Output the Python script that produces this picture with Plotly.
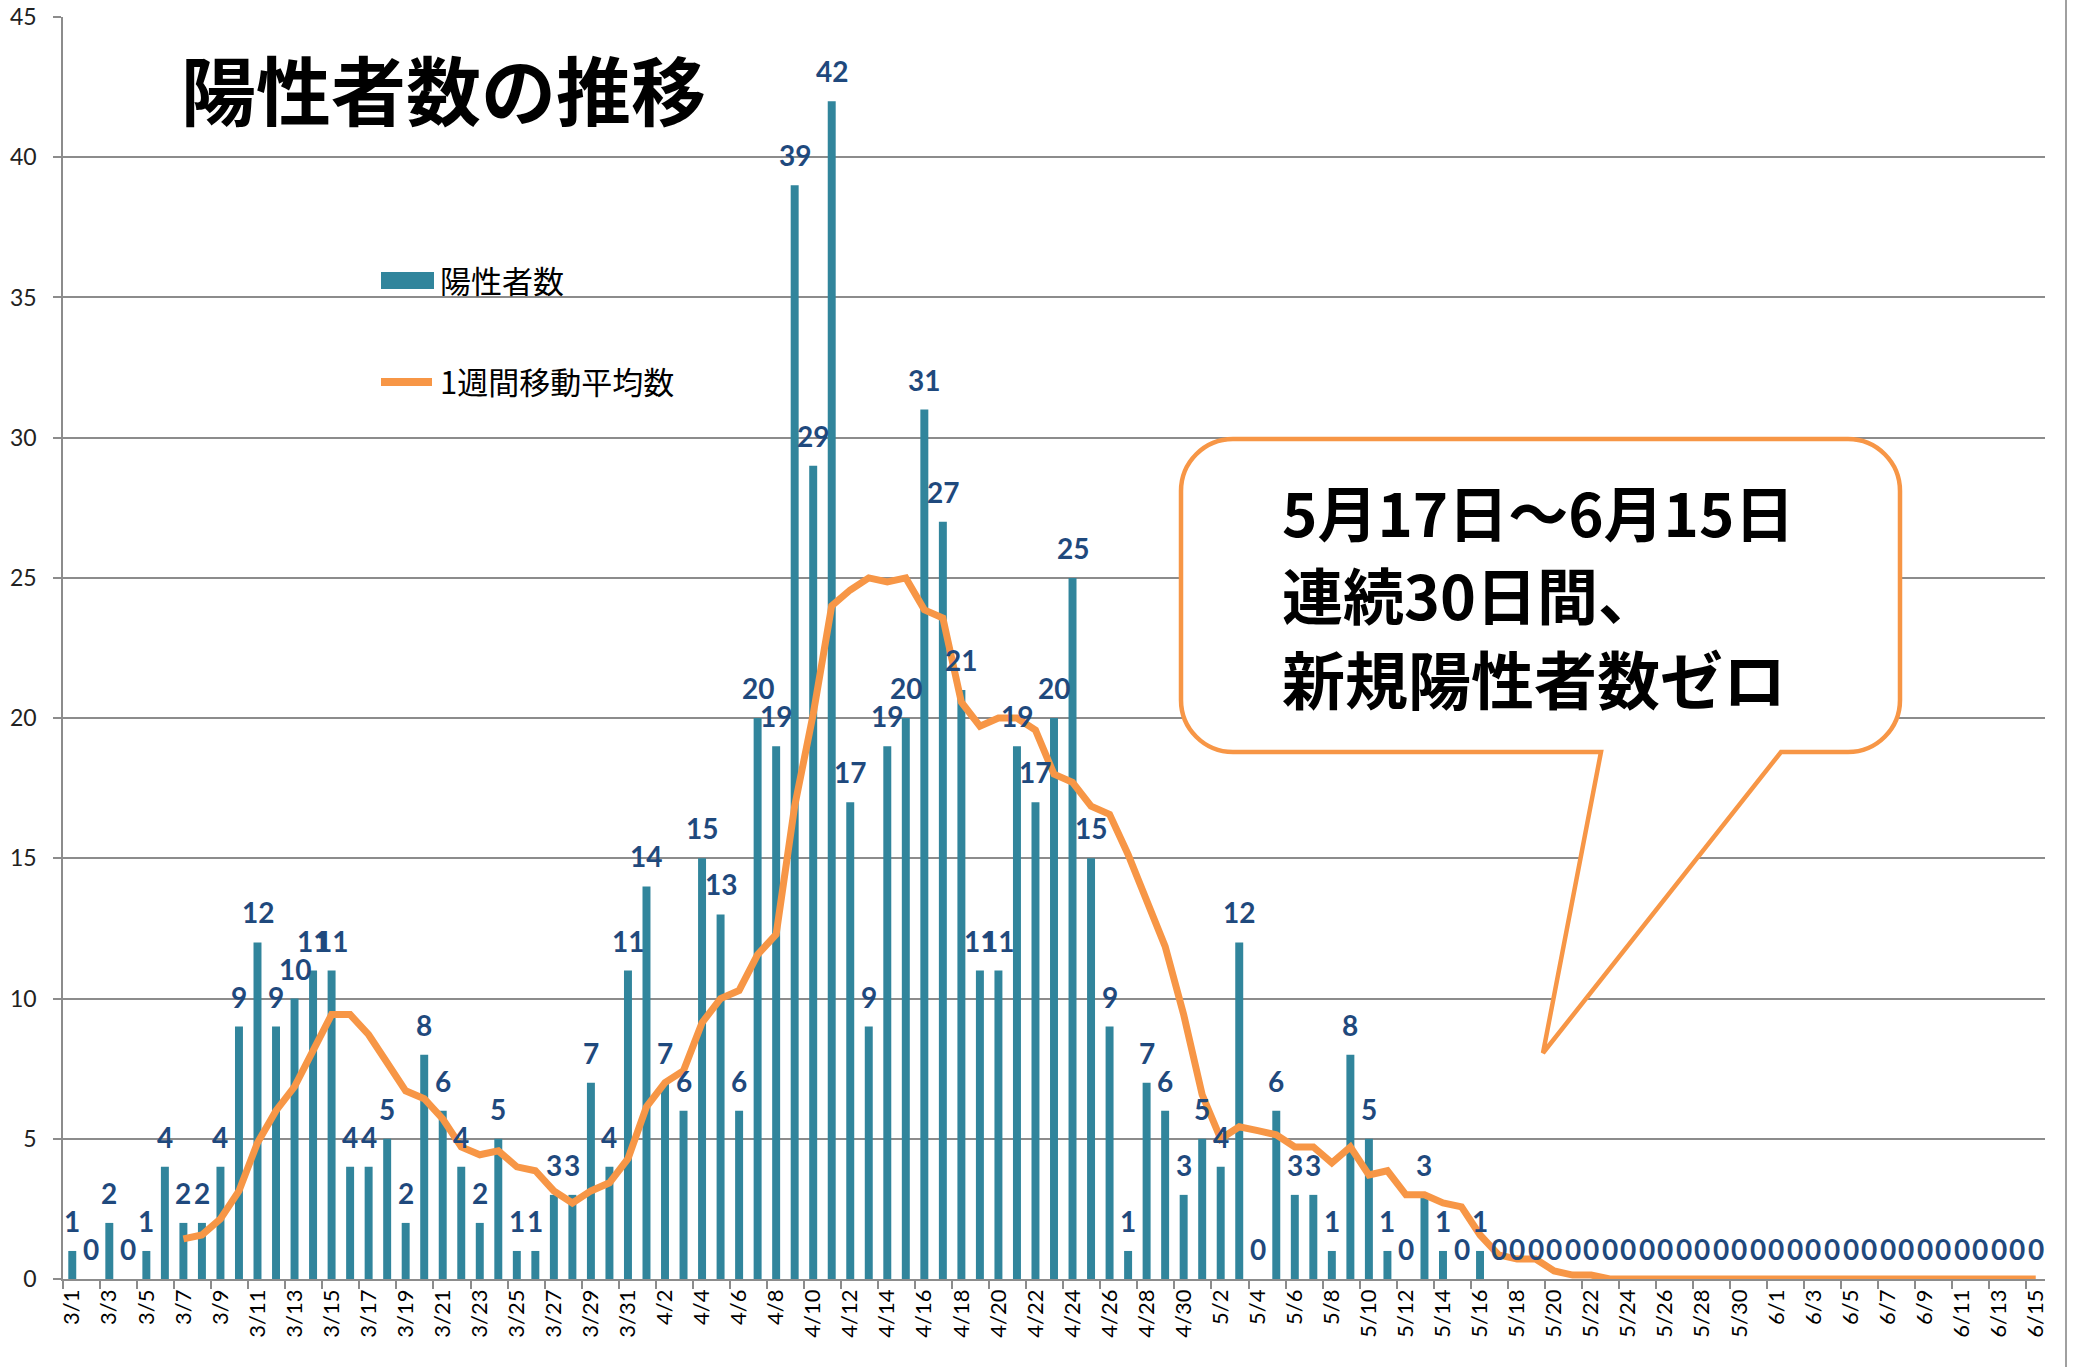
import plotly.graph_objects as go

# ---------------- data ----------------
dates = [
    "3/1", "3/2", "3/3", "3/4", "3/5", "3/6", "3/7", "3/8", "3/9", "3/10",
    "3/11", "3/12", "3/13", "3/14", "3/15", "3/16", "3/17", "3/18", "3/19", "3/20",
    "3/21", "3/22", "3/23", "3/24", "3/25", "3/26", "3/27", "3/28", "3/29", "3/30", "3/31",
    "4/1", "4/2", "4/3", "4/4", "4/5", "4/6", "4/7", "4/8", "4/9", "4/10",
    "4/11", "4/12", "4/13", "4/14", "4/15", "4/16", "4/17", "4/18", "4/19", "4/20",
    "4/21", "4/22", "4/23", "4/24", "4/25", "4/26", "4/27", "4/28", "4/29", "4/30",
    "5/1", "5/2", "5/3", "5/4", "5/5", "5/6", "5/7", "5/8", "5/9", "5/10",
    "5/11", "5/12", "5/13", "5/14", "5/15", "5/16", "5/17", "5/18", "5/19", "5/20",
    "5/21", "5/22", "5/23", "5/24", "5/25", "5/26", "5/27", "5/28", "5/29", "5/30", "5/31",
    "6/1", "6/2", "6/3", "6/4", "6/5", "6/6", "6/7", "6/8", "6/9", "6/10",
    "6/11", "6/12", "6/13", "6/14", "6/15",
]

positives = [
    1, 0, 2, 0, 1, 4, 2, 2, 4, 9,
    12, 9, 10, 11, 11, 4, 4, 5, 2, 8,
    6, 4, 2, 5, 1, 1, 3, 3, 7, 4, 11,
    14, 7, 6, 15, 13, 6, 20, 19, 39, 29,
    42, 17, 9, 19, 20, 31, 27, 21, 11, 11,
    19, 17, 20, 25, 15, 9, 1, 7, 6, 3,
    5, 4, 12, 0, 6, 3, 3, 1, 8, 5,
    1, 0, 3, 1, 0, 1, 0, 0, 0, 0,
    0, 0, 0, 0, 0, 0, 0, 0, 0, 0, 0,
    0, 0, 0, 0, 0, 0, 0, 0, 0, 0,
    0, 0, 0, 0, 0,
]

weekly_avg = [
    None, None, None, None, None, None, 1.43, 1.57, 2.14, 3.14,
    4.86, 6.00, 6.86, 8.14, 9.43, 9.43, 8.71, 7.71, 6.71, 6.43,
    5.71, 4.71, 4.43, 4.57, 4.00, 3.86, 3.14, 2.71, 3.14, 3.43, 4.29,
    6.14, 7.00, 7.43, 9.14, 10.00, 10.29, 11.57, 12.29, 16.86, 20.14,
    24.00, 24.57, 25.00, 24.86, 25.00, 23.86, 23.57, 20.57, 19.71, 20.00,
    20.00, 19.57, 18.00, 17.71, 16.86, 16.57, 15.14, 13.43, 11.86, 9.43,
    6.57, 5.00, 5.43, 5.29, 5.14, 4.71, 4.71, 4.14, 4.71, 3.71,
    3.86, 3.00, 3.00, 2.71, 2.57, 1.57, 0.86, 0.71, 0.71, 0.29,
    0.14, 0.14, 0, 0, 0, 0, 0, 0, 0, 0, 0,
    0, 0, 0, 0, 0, 0, 0, 0, 0, 0,
    0, 0, 0, 0, 0,
]

y_ticks = [0, 5, 10, 15, 20, 25, 30, 35, 40, 45]

title_text = "陽性者数の推移"
bar_name = "陽性者数"
line_name = "1週間移動平均数"
callout_lines = ["5月17日～6月15日", "連続30日間、", "新規陽性者数ゼロ"]

# ---------------- styling / geometry ----------------
W, H = 2076, 1367
PL, PR, PT, PB = 63, 2045, 17, 1279  # plot area in pixels

BAR_COLOR = "#31859C"
LINE_COLOR = "#F79646"
LABEL_COLOR = "#1F497D"
GRID_COLOR = "#8C8C8C"
CJK = "Noto Sans CJK JP"


def px(X):
    return (X - PL) / (PR - PL)


def py(Y):
    return (PB - Y) / (PB - PT)


fig = go.Figure()

fig.add_trace(go.Bar(
    x=dates, y=positives, name=bar_name,
    marker=dict(color=BAR_COLOR, line=dict(width=0)),
    showlegend=False, hoverinfo="x+y",
))

fig.add_trace(go.Scatter(
    x=dates, y=weekly_avg, name=line_name, mode="lines",
    line=dict(color=LINE_COLOR, width=7),
    connectgaps=False, cliponaxis=False, showlegend=False,
))

annotations = []
# data labels
for d, v in zip(dates, positives):
    annotations.append(dict(
        x=d, y=v, xref="x", yref="y", text=str(v), showarrow=False,
        yshift=30, yanchor="middle", xanchor="center",
        font=dict(family="Lato", size=28, color=LABEL_COLOR, weight="bold"),
    ))

# title
annotations.append(dict(
    x=px(179), y=py(88), xref="paper", yref="paper", text=f"<b>{title_text}</b>",
    showarrow=False, xanchor="left", yanchor="middle",
    font=dict(family=CJK, size=75, color="black"),
))

# legend texts
annotations.append(dict(
    x=px(438), y=py(279), xref="paper", yref="paper", text=bar_name,
    showarrow=False, xanchor="left", yanchor="middle",
    font=dict(family=CJK, size=31, color="black"),
))
annotations.append(dict(
    x=px(438), y=py(380), xref="paper", yref="paper", text=line_name,
    showarrow=False, xanchor="left", yanchor="middle",
    font=dict(family=CJK, size=31, color="black"),
))

# callout text
for txt, yc, fs in zip(callout_lines, [510, 593, 676], [60, 61, 63]):
    annotations.append(dict(
        x=px(1280), y=py(yc), xref="paper", yref="paper", text=f"<b>{txt}</b>",
        showarrow=False, xanchor="left", yanchor="middle",
        font=dict(family=CJK, size=fs, color="black"),
    ))

# callout shape path (pixels -> paper)
L, R, T, B, r = 1181, 1900, 439, 752, 52
k = 0.5523 * r
tail = [(1781, B), (1543, 1053), (1601, B)]


def P(X, Y):
    return f"{px(X):.5f},{py(Y):.5f}"


path = (
    f"M {P(L + r, T)} L {P(R - r, T)} "
    f"C {P(R - r + k, T)} {P(R, T + r - k)} {P(R, T + r)} "
    f"L {P(R, B - r)} "
    f"C {P(R, B - r + k)} {P(R - r + k, B)} {P(R - r, B)} "
    f"L {P(*tail[0])} L {P(*tail[1])} L {P(*tail[2])} "
    f"L {P(L + r, B)} "
    f"C {P(L + r - k, B)} {P(L, B - r + k)} {P(L, B - r)} "
    f"L {P(L, T + r)} "
    f"C {P(L, T + r - k)} {P(L + r - k, T)} {P(L + r, T)} Z"
)

shapes = [
    dict(type="path", xref="paper", yref="paper", path=path,
         line=dict(color=LINE_COLOR, width=4.5), fillcolor="white", layer="above"),
    # legend swatches
    dict(type="rect", xref="paper", yref="paper",
         x0=px(381), x1=px(434), y0=py(289), y1=py(272),
         line=dict(width=0), fillcolor=BAR_COLOR),
    dict(type="line", xref="paper", yref="paper",
         x0=px(381), x1=px(432), y0=py(382), y1=py(382),
         line=dict(color=LINE_COLOR, width=8)),
    # chart-area border on the right
    dict(type="line", xref="paper", yref="paper",
         x0=px(2066), x1=px(2066), y0=py(0), y1=py(H),
         line=dict(color="#A0A0A0", width=2)),
]

fig.update_layout(
    width=W, height=H,
    margin=dict(l=PL, r=W - PR, t=PT, b=H - PB, pad=0, autoexpand=False),
    plot_bgcolor="white", paper_bgcolor="white",
    bargap=0.57, showlegend=False,
    annotations=annotations, shapes=shapes,
    font=dict(family="Lato", color="black"),
)

fig.update_xaxes(
    type="category", range=[-0.5, len(dates) - 0.5],
    tickmode="linear", tick0=0, dtick=2, tickson="boundaries",
    ticks="outside", ticklen=8, tickwidth=1.5, tickcolor=GRID_COLOR,
    tickangle=-90, tickfont=dict(family="Lato", size=22, color="black"),
    showgrid=False, showline=True, linecolor=GRID_COLOR, linewidth=1.5,
    layer="below traces", fixedrange=True, automargin=False,
)

fig.update_yaxes(
    range=[0, 45], tickmode="array", tickvals=y_ticks,
    ticks="outside", ticklen=8, tickwidth=1.5, tickcolor=GRID_COLOR,
    tickfont=dict(family="Lato", size=23, color="#222222"),
    ticklabelstandoff=12,
    showgrid=True, gridcolor=GRID_COLOR, gridwidth=1.5,
    showline=True, linecolor=GRID_COLOR, linewidth=1.5,
    zeroline=False, layer="below traces", fixedrange=True, automargin=False,
)

fig.write_html(
    "out.html",
    config={"displayModeBar": False},
    post_script="document.body.style.margin='0';",
)
